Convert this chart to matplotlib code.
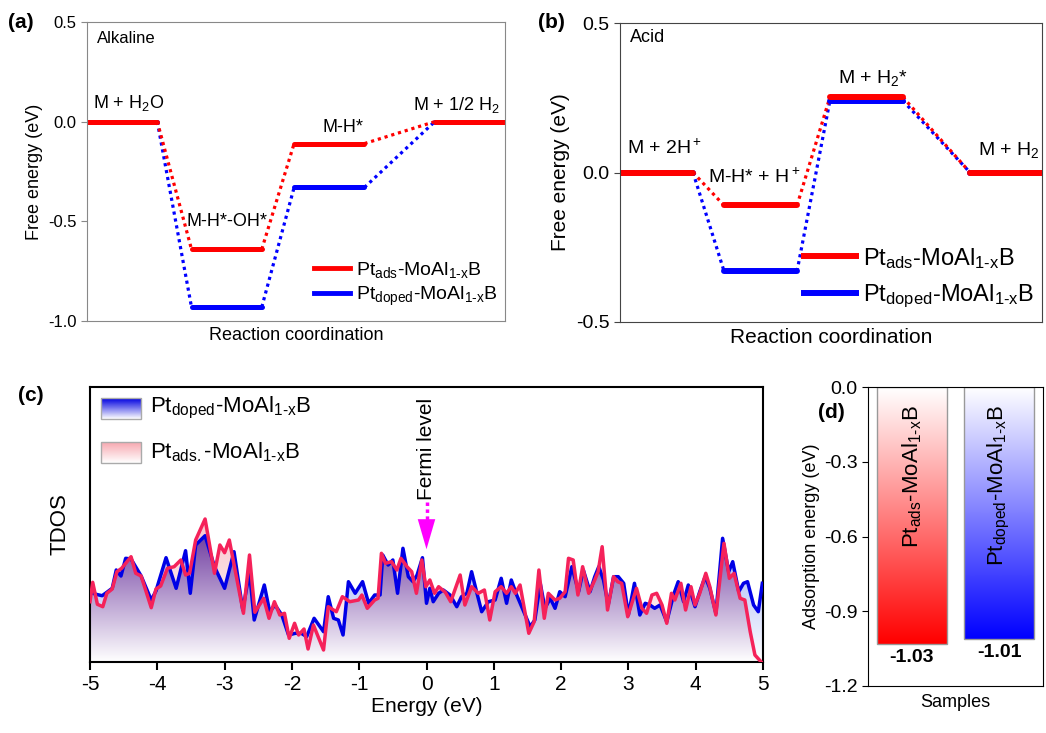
import numpy as np
import matplotlib
matplotlib.use("Agg")
import matplotlib.pyplot as plt
from matplotlib.lines import Line2D
from matplotlib.patches import Rectangle
from matplotlib.colors import LinearSegmentedColormap

plt.rcParams.update({
    "font.family": ["Liberation Sans", "DejaVu Sans"],
    "mathtext.fontset": "custom",
    "mathtext.rm": "Liberation Sans",
    "mathtext.it": "Liberation Sans:italic",
    "mathtext.bf": "Liberation Sans:bold",
    "mathtext.default": "regular",
    "axes.unicode_minus": False,
})

# ---------------- data ----------------
# (a) alkaline free energy diagram
alk_labels = ["M + H$_2$O", "M-H*-OH*", "M-H*", "M + 1/2 H$_2$"]
alk_ads = [0.0, -0.64, -0.11, 0.0]
alk_doped = [0.0, -0.93, -0.33, 0.0]
# (b) acid free energy diagram
acid_labels = ["M + 2H$^+$", "M-H* + H$^+$", "M + H$_2$*", "M + H$_2$"]
acid_ads = [0.0, -0.11, 0.252, 0.0]
acid_doped = [0.0, -0.33, 0.24, 0.0]
# (c) TDOS (arbitrary units)
energy_doped = [-5.0, -4.91, -4.82, -4.75, -4.67, -4.61, -4.54, -4.47, -4.39, -4.24, -4.09, -4.02,
                -3.87, -3.72, -3.58, -3.51, -3.43, -3.29, -3.15, -3.0, -2.86, -2.73, -2.63, -2.56,
                -2.41, -2.33, -2.25, -2.15, -2.05, -1.95, -1.86, -1.78, -1.67, -1.53, -1.46, -1.38,
                -1.31, -1.24, -1.16, -1.06, -0.95, -0.86, -0.77, -0.69, -0.65, -0.57, -0.5, -0.43,
                -0.35, -0.27, -0.2, -0.14, -0.06, 0.0, 0.05, 0.1, 0.18, 0.25, 0.35, 0.45, 0.52,
                0.6, 0.67, 0.75, 0.82, 0.92, 1.02, 1.11, 1.19, 1.26, 1.34, 1.54, 1.61, 1.69, 1.76,
                1.84, 1.91, 1.98, 2.06, 2.16, 2.26, 2.33, 2.43, 2.5, 2.56, 2.63, 2.7, 2.78, 2.85,
                2.93, 3.0, 3.09, 3.17, 3.25, 3.32, 3.39, 3.47, 3.57, 3.67, 3.74, 3.82, 3.89, 3.99,
                4.06, 4.14, 4.21, 4.3, 4.4, 4.49, 4.55, 4.64, 4.71, 4.77, 4.86, 4.93, 4.99]
tdos_doped = [69.7, 67.7, 66.3, 69.7, 73.7, 92.0, 86.0, 103.7, 103.0, 86.0, 62.0, 71.0,
              104.3, 73.7, 111.3, 68.7, 117.0, 126.3, 95.3, 73.7, 110.3, 52.0, 90.3, 42.0,
              77.0, 50.3, 57.0, 47.0, 27.0, 28.7, 28.7, 25.3, 43.7, 30.3, 65.3, 43.7,
              42.0, 27.0, 80.3, 68.7, 80.3, 58.7, 67.0, 67.0, 107.0, 97.0, 102.0, 68.7,
              113.7, 85.3, 80.3, 87.0, 104.3, 58.7, 73.7, 60.3, 68.7, 72.0, 67.0, 55.3, 65.3,
              68.7, 90.3, 68.7, 50.3, 60.3, 62.0, 83.7, 58.7, 82.0, 67.0, 35.3, 42.0, 78.7, 53.7,
              63.7, 53.7, 70.3, 65.3, 95.3, 70.3, 92.0, 70.3, 85.3, 95.3, 82.0, 57.0, 85.3, 85.3,
              78.7, 47.0, 78.7, 47.0, 58.7, 57.0, 53.7, 57.0, 40.3, 67.0, 80.3, 60.3, 77.0, 55.3,
              70.3, 85.3, 73.7, 48.7, 123.7, 90.3, 100.3, 70.3, 78.7, 80.3, 57.0, 50.3, 78.7]
energy_ads = [-5.0, -4.96, -4.89, -4.81, -4.75, -4.67, -4.6, -4.53, -4.39, -4.32, -4.24, -4.09,
              -4.02, -3.95, -3.85, -3.75, -3.65, -3.58, -3.52, -3.43, -3.29, -3.15, -3.07, -3.0,
              -2.93, -2.72, -2.63, -2.55, -2.42, -2.34, -2.26, -2.18, -2.11, -2.04, -1.96, -1.9,
              -1.82, -1.76, -1.68, -1.53, -1.46, -1.34, -1.25, -1.14, -1.01, -0.96, -0.88, -0.77,
              -0.72, -0.67, -0.61, -0.52, -0.44, -0.38, -0.29, -0.22, -0.15, -0.07, -0.01, 0.05,
              0.12, 0.18, 0.28, 0.36, 0.5, 0.57, 0.67, 0.77, 0.86, 0.94, 1.02, 1.11, 1.19, 1.26,
              1.32, 1.39, 1.52, 1.6, 1.67, 1.75, 1.81, 1.91, 1.98, 2.06, 2.11, 2.18, 2.25, 2.32,
              2.41, 2.5, 2.55, 2.61, 2.69, 2.78, 2.84, 2.9, 2.99, 3.12, 3.2, 3.27, 3.35, 3.42,
              3.5, 3.57, 3.64, 3.69, 3.78, 3.85, 3.93, 3.99, 4.06, 4.15, 4.21, 4.3, 4.42, 4.5,
              4.57, 4.66, 4.73, 4.81, 4.88, 4.97]
tdos_ads = [60.3, 79.7, 57.7, 55.3, 68.7, 73.0, 90.3, 93.7, 105.3, 88.7, 86.0, 54.3,
            73.0, 76.0, 93.7, 95.3, 102.0, 87.0, 88.7, 122.0, 143.0, 88.7, 117.0, 109.3,
            122.0, 48.7, 107.0, 49.7, 63.7, 43.7, 60.3, 47.0, 48.7, 23.7, 38.7, 27.0,
            33.0, 13.0, 37.0, 12.0, 55.3, 50.3, 65.3, 60.3, 62.0, 67.0, 53.7, 62.0,
            63.7, 108.7, 98.7, 100.3, 92.0, 103.7, 95.3, 90.3, 68.7, 102.0, 75.3, 82.0,
            68.7, 75.3, 69.7, 60.3, 87.0, 57.0, 75.3, 68.7, 72.0, 42.0, 70.3, 75.3, 68.7, 75.3,
            68.7, 77.0, 28.7, 40.3, 92.0, 43.7, 68.7, 62.0, 63.7, 70.3, 103.7, 102.0, 67.0, 95.3,
            68.7, 82.0, 90.3, 115.3, 52.0, 85.3, 80.3, 78.7, 45.3, 73.7, 53.7, 48.7, 67.0, 68.7,
            57.0, 38.7, 68.7, 62.0, 78.7, 52.0, 75.3, 57.0, 68.7, 88.7, 75.3, 47.0, 118.7, 83.7,
            88.7, 63.7, 62.0, 30.3, 7.0, 0.3]
# (d) adsorption energies
samples = ["Pt$_{ads}$-MoAl$_{\\text{1-x}}$B", "Pt$_{doped}$-MoAl$_{\\text{1-x}}$B"]
ads_energy = [-1.03, -1.01]
ads_value_labels = ["-1.03", "-1.01"]

RED = "#ff0000"
BLUE = "#0000ff"
LEG_ADS = "Pt$_{ads}$-MoAl$_{\\text{1-x}}$B"
LEG_ADS_C = "Pt$_{ads.}$-MoAl$_{\\text{1-x}}$B"
LEG_DOPED = "Pt$_{doped}$-MoAl$_{\\text{1-x}}$B"

W, H = 1046, 733
fig = plt.figure(figsize=(W / 100, H / 100), dpi=100)


def fax(l, t, r, b):
    return fig.add_axes([l / W, 1 - b / H, (r - l) / W, (b - t) / H])


def energy_diagram(ax, starts, width, ads, doped, lw_lvl):
    for vals, col in ((doped, BLUE), (ads, RED)):
        for i in range(len(vals) - 1):
            ax.plot([starts[i] + width, starts[i + 1]], [vals[i], vals[i + 1]],
                    ls=(0, (1, 1.2)), lw=2.3, color=col)
    for vals, col in ((doped, BLUE), (ads, RED)):
        for i, v in enumerate(vals):
            ax.plot([starts[i], starts[i] + width], [v, v], color=col, lw=lw_lvl,
                    solid_capstyle="round")


# ---------------- (a) ----------------
axa = fax(87, 22, 505, 321)
starts_a = [0.0, 2.75, 5.45, 9.15]
energy_diagram(axa, starts_a, 1.85, alk_ads, alk_doped, 3.6)
axa.set_xlim(0, 11)
axa.set_ylim(-1.0, 0.5)
axa.set_yticks([-1.0, -0.5, 0.0, 0.5])
axa.set_yticklabels(["-1.0", "-0.5", "0.0", "0.5"])
axa.set_xticks([])
axa.tick_params(axis="y", labelsize=12, direction="out", length=4, color="#888888")
for s in axa.spines.values():
    s.set_color("#888888")
axa.set_xlabel("Reaction coordination", fontsize=13, labelpad=4)
axa.set_ylabel("Free energy (eV)", fontsize=13, labelpad=4)
axa.text(0.024, 0.945, "Alkaline", transform=axa.transAxes, fontsize=12, va="center")
axa.text(0.16, 0.094, alk_labels[0], fontsize=13, va="center", ha="left")
axa.text(3.68, -0.50, alk_labels[1], fontsize=13, va="center", ha="center")
axa.text(6.74, -0.027, alk_labels[2], fontsize=13, va="center", ha="center")
axa.text(10.87, 0.084, alk_labels[3], fontsize=13, va="center", ha="right")
axa.legend([Line2D([], [], color=RED, lw=3.5), Line2D([], [], color=BLUE, lw=3.5)],
           [LEG_ADS, LEG_DOPED], loc="lower left", bbox_to_anchor=(0.50, -0.015),
           frameon=False, fontsize=14, handlelength=1.9, handletextpad=0.3, labelspacing=0.25)

# ---------------- (b) ----------------
axb = fax(620, 23, 1042, 322)
starts_b = [0.0, 2.85, 5.75, 9.59]
energy_diagram(axb, starts_b, 2.0, acid_ads, acid_doped, 4.3)
axb.set_xlim(0, 11.56)
axb.set_ylim(-0.5, 0.5)
axb.set_yticks([-0.5, 0.0, 0.5])
axb.set_yticklabels(["-0.5", "0.0", "0.5"])
axb.set_xticks([])
axb.tick_params(axis="y", labelsize=14, direction="out", length=4, color="#444444")
for s in axb.spines.values():
    s.set_color("#444444")
axb.set_xlabel("Reaction coordination", fontsize=15, labelpad=4)
axb.set_ylabel("Free energy (eV)", fontsize=15, labelpad=4)
axb.text(0.024, 0.95, "Acid", transform=axb.transAxes, fontsize=13, va="center")
axb.text(0.19, 0.082, acid_labels[0], fontsize=14, va="center", ha="left")
axb.text(2.41, -0.015, acid_labels[1], fontsize=14, va="center", ha="left")
axb.text(5.97, 0.316, acid_labels[2], fontsize=14, va="center", ha="left")
axb.text(11.5, 0.075, acid_labels[3], fontsize=14, va="center", ha="right")
axb.legend([Line2D([], [], color=RED, lw=4.3), Line2D([], [], color=BLUE, lw=4.3)],
           [LEG_ADS, LEG_DOPED], loc="lower left", bbox_to_anchor=(0.385, -0.03),
           frameon=False, fontsize=17, handlelength=2.2, handletextpad=0.3, labelspacing=0.5)

# ---------------- (c) ----------------
axc = fax(90, 387, 763, 662)
YMAX = 275
eg = np.linspace(-5, 5, 1400)
hg = np.linspace(0, YMAX, 600)
hb = np.interp(eg, energy_doped, tdos_doped)
hr = np.interp(eg, energy_ads, tdos_ads)
HH = hg[:, None]
tt = np.clip(HH / 150.0, 0, 1)[..., None]
white = np.array([1.0, 1.0, 1.0])
purple = np.array([88, 28, 145]) / 255
pink = np.array([248, 195, 202]) / 255
lblue = np.array([140, 160, 245]) / 255
img = np.zeros((len(hg), len(eg), 4))
lo = np.minimum(hb, hr)[None, :]
m_both = HH <= lo
m_blue = (HH > lo) & (HH <= hb[None, :])
m_red = (HH > lo) & (HH <= hr[None, :])
for mask, col in ((m_both, purple), (m_blue, lblue), (m_red, pink)):
    c = white * (1 - tt) + col * tt
    c = np.broadcast_to(c, img[..., :3].shape)
    img[..., :3][mask] = c[mask]
    img[..., 3][mask] = 1.0
axc.imshow(img, origin="lower", extent=[-5, 5, 0, YMAX], aspect="auto",
           interpolation="bilinear", zorder=1)
axc.plot(energy_doped, tdos_doped, color="#0000e6", lw=2.5, zorder=3)
axc.plot(energy_ads, tdos_ads, color="#f5225a", lw=2.5, zorder=4)
axc.set_xticks(range(-5, 6))
axc.set_xticklabels([str(v) for v in range(-5, 6)])
axc.set_yticks([])
axc.tick_params(axis="x", labelsize=15, direction="out", length=6, width=1.5)
for s in axc.spines.values():
    s.set_linewidth(1.5)
axc.set_xlabel("Energy (eV)", fontsize=15, labelpad=2)
axc.set_ylabel("TDOS", fontsize=16, labelpad=14)
# Fermi level marker
axc.plot([0, 0], [160, 134], color="#ff00ff", ls=(0, (1, 1)), lw=2.5, zorder=5)
axc.annotate("", xy=(0, 110), xytext=(0, 134),
             arrowprops=dict(arrowstyle="-|>,head_length=1.2,head_width=0.35",
                             color="#ff00ff", lw=0.01, mutation_scale=18), zorder=5)
axc.text(0, 162, "Fermi level", rotation=90, ha="center", va="bottom", fontsize=15)
# manual gradient legend
gcol = np.linspace(0, 1, 64)[:, None]
cm_b = LinearSegmentedColormap.from_list("lb", ["#ffffff", "#0000e0"])
cm_r = LinearSegmentedColormap.from_list("lr", ["#ffffff", "#f7a8b0"])
for (y0, y1), cm, lab in (((0.885, 0.96), cm_b, LEG_DOPED), ((0.724, 0.80), cm_r, LEG_ADS_C)):
    axc.imshow(gcol, extent=[0.016, 0.076, y0, y1], transform=axc.transAxes,
               cmap=cm, aspect="auto", origin="lower", zorder=6)
    axc.add_patch(Rectangle((0.016, y0), 0.06, y1 - y0, transform=axc.transAxes,
                            fill=False, edgecolor="#aaaaaa", lw=1, zorder=7))
    axc.text(0.089, (y0 + y1) / 2, lab, transform=axc.transAxes, fontsize=16,
             va="center", ha="left", zorder=7)
axc.set_xlim(-5, 5)
axc.set_ylim(0, YMAX)

# ---------------- (d) ----------------
axd = fax(868, 387, 1043, 686)
bar_x = [0.25, 0.75]
bw = 0.4
cms = [LinearSegmentedColormap.from_list("r", ["#ffffff", "#ff0000"]),
       LinearSegmentedColormap.from_list("b", ["#ffffff", "#0000ff"])]
grad = np.linspace(0, 1, 256)[:, None]
for x, v, cm, name, vl in zip(bar_x, ads_energy, cms, samples, ads_value_labels):
    axd.imshow(grad, extent=[x - bw / 2, x + bw / 2, v, 0], origin="upper",
               cmap=cm, aspect="auto", zorder=1)
    axd.bar(x, v, width=bw, bottom=0, fill=False, edgecolor="#999999", lw=1, zorder=2)
    axd.text(x, -0.07, name, rotation=90, ha="center", va="top", fontsize=16, zorder=3)
    axd.text(x, v - 0.055, vl, ha="center", va="center", fontsize=14,
             fontweight="bold")
axd.set_xlim(0, 1)
axd.set_ylim(-1.2, 0)
axd.set_yticks([0, -0.3, -0.6, -0.9, -1.2])
axd.set_yticklabels(["0.0", "-0.3", "-0.6", "-0.9", "-1.2"])
axd.set_xticks([])
axd.tick_params(axis="y", labelsize=14, direction="out", length=4)
axd.set_ylabel("Adsorption energy (eV)", fontsize=13, labelpad=3)
axd.set_xlabel("Samples", fontsize=13, labelpad=6)

# panel labels
for lab, x, y in (("(a)", 8, 22), ("(b)", 538, 22), ("(c)", 18, 395), ("(d)", 818, 412)):
    fig.text(x / W, 1 - y / H, lab, fontsize=15, fontweight="bold", va="center", ha="left")

fig.savefig("out.png", dpi=100)
